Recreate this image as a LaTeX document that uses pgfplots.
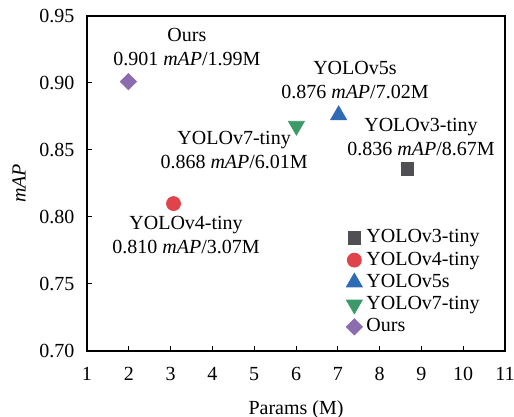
\documentclass[border=0pt]{standalone}
\usepackage{fontspec}
\setmainfont{Liberation Serif}
\usepackage{pgfplots}
\pgfplotsset{compat=1.18}
\definecolor{cgray}{HTML}{505054}
\definecolor{cred}{HTML}{E0434A}
\definecolor{cblue}{HTML}{2F6BB5}
\definecolor{cgreen}{HTML}{3C9A6A}
\definecolor{cpurple}{HTML}{8B6DAF}
\begin{document}
\begin{tikzpicture}
\begin{axis}[
  name=ax,
  scale only axis,
  width=209pt, height=167.5pt,
  xmin=1, xmax=11, ymin=0.70, ymax=0.95,
  xtick={1,2,...,11},
  ytick={0.70,0.75,0.80,0.85,0.90,0.95},
  yticklabel style={/pgf/number format/fixed, /pgf/number format/fixed zerofill, /pgf/number format/precision=2, xshift=-2.8pt},
  xticklabel style={yshift=-4.5pt},
  /pgf/number format/assume math mode=true,
  tick align=inside,
  xtick pos=bottom, ytick pos=left,
  major tick length=2.5pt,
  tick style={black, line width=0.5pt},
  axis line style={black, line width=0.6pt},
  font=\fontsize{10}{12}\selectfont,
  xlabel={Params (M)},
  ylabel={\textit{mAP}},
  xlabel style={yshift=-3pt},
  ylabel style={yshift=0pt},
  legend style={draw=none, fill=none, at={(rel axis cs:0.605,0.387)}, anchor=north west, font=\fontsize{10}{12}\selectfont, row sep=-1pt},
  legend cell align=left,
]
\addplot[only marks, mark=square*, mark size=3.1pt, color=cgray] coordinates {(8.67,0.836)};
\addlegendentry{YOLOv3-tiny}
\addplot[only marks, mark=*, mark size=3.5pt, color=cred] coordinates {(3.07,0.810)};
\addlegendentry{YOLOv4-tiny}
\addplot[only marks, mark=triangle*, mark size=4.6pt, color=cblue] coordinates {(7.02,0.876)};
\addlegendentry{YOLOv5s}
\addplot[only marks, mark=triangle*, mark size=4.6pt, mark options={rotate=180}, color=cgreen] coordinates {(6.01,0.868)};
\addlegendentry{YOLOv7-tiny}
\addplot[only marks, mark=square*, mark size=2.85pt, mark options={rotate=45}, color=cpurple] coordinates {(1.99,0.901)};
\addlegendentry{Ours}
\node[align=center, font=\fontsize{10}{12}\selectfont] at (axis cs:3.39,0.927) {Ours\\0.901 \textit{mAP}/1.99M};
\node[align=center, font=\fontsize{10}{12}\selectfont] at (axis cs:7.41,0.902) {YOLOv5s\\0.876 \textit{mAP}/7.02M};
\node[align=center, font=\fontsize{10}{12}\selectfont] at (axis cs:4.52,0.850) {YOLOv7-tiny\\0.868 \textit{mAP}/6.01M};
\node[align=center, font=\fontsize{10}{12}\selectfont] at (axis cs:8.99,0.860) {YOLOv3-tiny\\0.836 \textit{mAP}/8.67M};
\node[align=center, font=\fontsize{10}{12}\selectfont] at (axis cs:3.37,0.7866) {YOLOv4-tiny\\0.810 \textit{mAP}/3.07M};
\end{axis}
\pgfresetboundingbox
\path ([xshift=-43.5pt,yshift=-33pt]ax.south west) rectangle ([xshift=4.5pt,yshift=8pt]ax.north east);
\end{tikzpicture}
\end{document}
